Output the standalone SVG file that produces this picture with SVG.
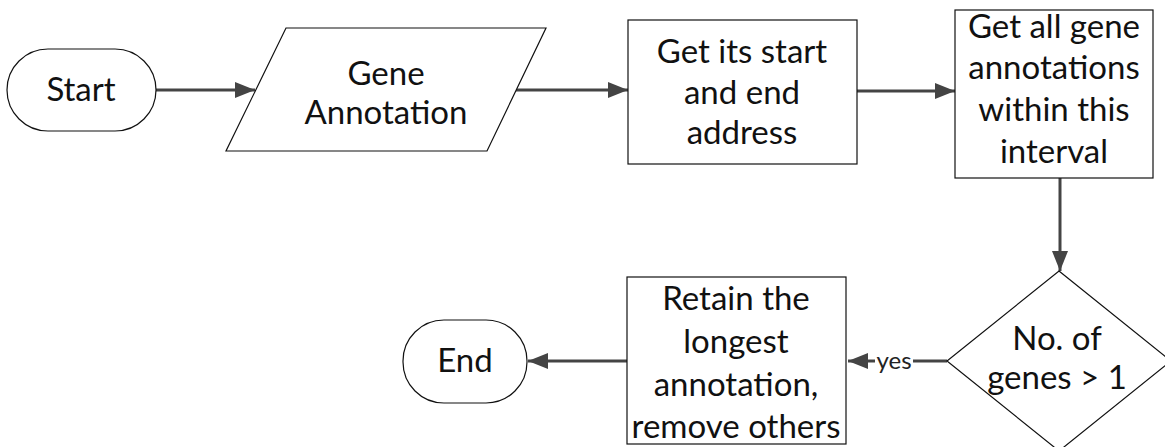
<svg xmlns="http://www.w3.org/2000/svg" width="1165" height="447" viewBox="0 0 1165 447">
<style>
.s{fill:#fff;stroke:#111;stroke-width:1.2}
.t{font-family:Lato,"Liberation Sans",sans-serif;font-size:33px;fill:#111;text-anchor:middle}
.c{stroke:#444;stroke-width:3;fill:none}
.l{font-family:Lato,"Liberation Sans",sans-serif;font-size:24px;fill:#222;text-anchor:middle}
</style>
<defs>
<marker id="a" markerUnits="userSpaceOnUse" markerWidth="22" markerHeight="18" refX="20" refY="8" orient="auto">
<path d="M0,0 L20,8 L0,16 z" fill="#444"/>
</marker>
</defs>
<rect width="1165" height="447" fill="#fff"/>
<g id="connectors">
<line class="c" x1="156" y1="90" x2="255" y2="90" marker-end="url(#a)"/>
<line class="c" x1="516" y1="90" x2="628" y2="90" marker-end="url(#a)"/>
<line class="c" x1="857" y1="91" x2="955" y2="91" marker-end="url(#a)"/>
<line class="c" x1="1060" y1="178" x2="1060" y2="271" marker-end="url(#a)"/>
<line class="c" x1="947" y1="361" x2="913" y2="361"/>
<line class="c" x1="875" y1="361" x2="848" y2="361" marker-end="url(#a)"/>
<text class="l" x="894" y="369">yes</text>
<line class="c" x1="627" y1="361" x2="528" y2="361" marker-end="url(#a)"/>
</g>
<g id="start">
<rect class="s" x="7" y="49" width="149" height="82" rx="41" ry="41"/>
<text class="t" x="81" y="101">Start</text>
</g>
<g id="gene-annotation">
<polygon class="s" points="286,28 546,28 487,151 226,151"/>
<text class="t" x="386" y="85">Gene</text>
<text class="t" x="386" y="124">Annotation</text>
</g>
<g id="get-address">
<rect class="s" x="628" y="20" width="229" height="144"/>
<text class="t" x="742" y="63">Get its start</text>
<text class="t" x="742" y="104">and end</text>
<text class="t" x="742" y="144">address</text>
</g>
<g id="get-all">
<rect class="s" x="955" y="10" width="198" height="168"/>
<text class="t" x="1054" y="38">Get all gene</text>
<text class="t" x="1054" y="79">annotations</text>
<text class="t" x="1054" y="121">within this</text>
<text class="t" x="1054" y="163">interval</text>
</g>
<g id="decision">
<polygon class="s" points="1059,271 1171,361 1059,451 947,361"/>
<text class="t" x="1057" y="350">No. of</text>
<text class="t" x="1057" y="389">genes &gt; 1</text>
</g>
<g id="retain">
<rect class="s" x="627" y="277" width="219" height="167"/>
<text class="t" x="736" y="310">Retain the</text>
<text class="t" x="736" y="353">longest</text>
<text class="t" x="736" y="396">annotation,</text>
<text class="t" x="736" y="438">remove others</text>
</g>
<g id="end">
<rect class="s" x="403" y="320" width="124" height="83" rx="41" ry="41"/>
<text class="t" x="465" y="372">End</text>
</g>
</svg>
